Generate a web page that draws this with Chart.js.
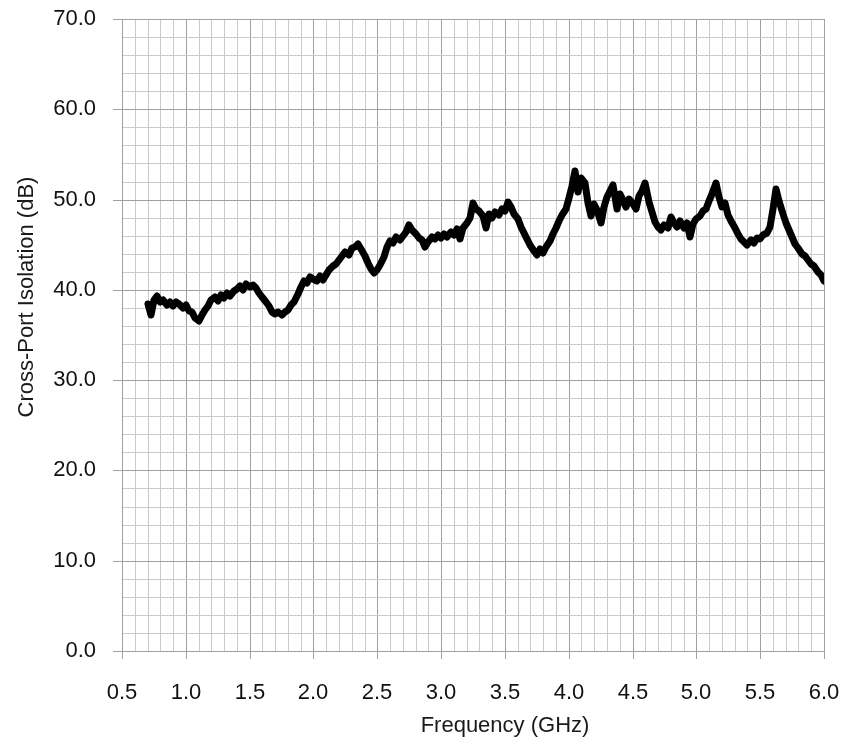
<!DOCTYPE html>
<html>
<head>
<meta charset="utf-8">
<script src="https://cdn.jsdelivr.net/npm/chart.js@4.4.1/dist/chart.umd.min.js"></script>
<style>
  html, body { margin: 0; padding: 0; background: #fff; }
  #chart { display: block; }
</style>
</head>
<body>
<canvas id="chart" width="846" height="744"></canvas>
<script>
const freqGHz = [
  0.700, 0.725, 0.750, 0.775, 0.800, 0.825, 0.850, 0.875,
  0.900, 0.925, 0.950, 0.975, 1.000, 1.025, 1.050, 1.075,
  1.100, 1.125, 1.150, 1.175, 1.200, 1.225, 1.250, 1.275,
  1.300, 1.325, 1.350, 1.375, 1.400, 1.425, 1.450, 1.475,
  1.500, 1.525, 1.550, 1.575, 1.600, 1.625, 1.650, 1.675,
  1.700, 1.725, 1.750, 1.775, 1.800, 1.825, 1.850, 1.875,
  1.900, 1.925, 1.950, 1.975, 2.000, 2.025, 2.050, 2.075,
  2.100, 2.125, 2.150, 2.175, 2.200, 2.225, 2.250, 2.275,
  2.300, 2.325, 2.350, 2.375, 2.400, 2.425, 2.450, 2.475,
  2.500, 2.525, 2.550, 2.575, 2.600, 2.625, 2.650, 2.675,
  2.700, 2.725, 2.750, 2.775, 2.800, 2.825, 2.850, 2.875,
  2.900, 2.925, 2.950, 2.975, 3.000, 3.025, 3.050, 3.075,
  3.100, 3.125, 3.150, 3.175, 3.200, 3.225, 3.250, 3.275,
  3.300, 3.325, 3.350, 3.375, 3.400, 3.425, 3.450, 3.475,
  3.500, 3.525, 3.550, 3.575, 3.600, 3.625, 3.650, 3.675,
  3.700, 3.725, 3.750, 3.775, 3.800, 3.825, 3.850, 3.875,
  3.900, 3.925, 3.950, 3.975, 4.000, 4.025, 4.050, 4.075,
  4.100, 4.125, 4.150, 4.175, 4.200, 4.225, 4.250, 4.275,
  4.300, 4.325, 4.350, 4.375, 4.400, 4.425, 4.450, 4.475,
  4.500, 4.525, 4.550, 4.575, 4.600, 4.625, 4.650, 4.675,
  4.700, 4.725, 4.750, 4.775, 4.800, 4.825, 4.850, 4.875,
  4.900, 4.925, 4.950, 4.975, 5.000, 5.025, 5.050, 5.075,
  5.100, 5.125, 5.150, 5.175, 5.200, 5.225, 5.250, 5.275,
  5.300, 5.325, 5.350, 5.375, 5.400, 5.425, 5.450, 5.475,
  5.500, 5.525, 5.550, 5.575, 5.600, 5.625, 5.650, 5.675,
  5.700, 5.725, 5.750, 5.775, 5.800, 5.825, 5.850, 5.875,
  5.900, 5.925, 5.950, 5.975, 6.000
];

const isolationDb = [
  38.4, 37.2, 38.9, 39.3, 38.6, 38.9, 38.3, 38.7,
  38.2, 38.6, 38.4, 38.0, 38.3, 37.7, 37.5, 36.9,
  36.6, 37.2, 37.8, 38.2, 38.9, 39.2, 38.8, 39.4,
  39.1, 39.6, 39.3, 39.9, 40.1, 40.4, 40.0, 40.6,
  40.3, 40.5, 40.2, 39.6, 39.2, 38.7, 38.2, 37.6,
  37.3, 37.6, 37.2, 37.5, 37.8, 38.3, 38.7, 39.5,
  40.3, 41.0, 40.8, 41.4, 41.2, 41.0, 41.5, 41.1,
  41.6, 42.2, 42.6, 42.9, 43.3, 43.8, 44.2, 43.9,
  44.6, 44.8, 45.1, 44.5, 43.8, 43.0, 42.3, 41.9,
  42.2, 42.8, 43.6, 44.8, 45.4, 45.2, 45.8, 45.5,
  46.0, 46.4, 47.2, 46.6, 46.2, 45.7, 45.5, 44.8,
  45.3, 45.9, 45.6, 46.1, 45.7, 46.2, 45.8, 46.4,
  46.1, 46.7, 45.6, 46.9, 47.4, 48.0, 49.6, 49.0,
  48.7, 48.2, 46.8, 48.4, 48.0, 48.6, 48.3, 49.0,
  48.7, 49.7, 49.2, 48.4, 47.8, 47.0, 46.3, 45.6,
  45.0, 44.3, 43.9, 44.5, 44.1, 44.8, 45.4, 46.2,
  46.8, 47.6, 48.3, 49.0, 50.2, 51.5, 53.2, 50.8,
  52.4, 51.8, 49.6, 48.2, 49.5, 48.8, 47.4, 49.2,
  50.3, 51.0, 51.6, 49.0, 50.6, 50.0, 49.2, 50.1,
  49.5, 49.0, 50.4, 50.9, 51.8, 49.7, 48.6, 47.5,
  47.0, 46.6, 47.2, 46.8, 48.1, 47.4, 47.0, 47.6,
  46.9, 47.4, 45.8, 47.3, 47.8, 48.2, 48.7, 49.0,
  49.8, 50.6, 51.8, 50.3, 49.2, 49.6, 48.3, 47.6,
  46.8, 46.2, 45.6, 45.3, 45.0, 45.5, 45.2, 45.7,
  45.6, 46.1, 46.3, 47.0, 49.0, 51.2, 49.8, 48.4,
  47.4, 46.6, 45.9, 45.1, 44.6, 44.0, 43.8, 43.3,
  42.9, 42.6, 42.0, 41.6, 41.0
];

const xTitle = 'Frequency (GHz)';
const yTitle = 'Cross-Port Isolation (dB)';

const FONT = '"Liberation Sans", Arial, sans-serif';
const MAJOR_GRID = '#a0a0a0';
const MINOR_GRID = '#cbcbcb';

// major = multiple of the given step
function isMultiple(v, step) {
  const r = v / step;
  return Math.abs(r - Math.round(r)) < 1e-6;
}

// drop the automatic label overhang so layout.padding alone sets the plot box
function fixScale(s, size) {
  if (s.isHorizontal()) s.height = size; else s.width = size;
  s.paddingTop = 0;
  s.paddingBottom = 0;
  s.paddingLeft = 0;
  s.paddingRight = 0;
}

// axis titles sit off-centre in the original, so draw them by hand
const axisTitles = {
  id: 'axisTitles',
  afterDraw(chart) {
    const c = chart.ctx;
    c.save();
    c.fillStyle = '#1a1a1a';
    c.font = '22px ' + FONT;
    c.textAlign = 'center';
    c.textBaseline = 'alphabetic';
    c.fillText(xTitle, 505, 732);
    c.translate(33, 297);
    c.rotate(-Math.PI / 2);
    c.fillText(yTitle, 0, 0);
    c.restore();
  }
};

const points = freqGHz.map((f, i) => ({ x: f, y: isolationDb[i] }));

new Chart(document.getElementById('chart'), {
  type: 'scatter',
  data: {
    datasets: [{
      data: points,
      showLine: true,
      borderColor: '#000',
      borderWidth: 7,
      borderJoinStyle: 'round',
      borderCapStyle: 'round',
      pointRadius: 0,
      tension: 0
    }]
  },
  options: {
    responsive: false,
    animation: false,
    layout: { padding: { top: 19, right: 22, left: 0, bottom: 0 } },
    plugins: {
      legend: { display: false },
      tooltip: { enabled: false }
    },
    scales: {
      x: {
        type: 'linear',
        min: 0.5,
        max: 6.0,
        alignToPixels: true,
        afterFit: s => fixScale(s, 93),
        grid: {
          color: ctx => isMultiple(ctx.tick.value, 0.5) ? MAJOR_GRID : MINOR_GRID,
          tickColor: ctx => isMultiple(ctx.tick.value, 0.5) ? MAJOR_GRID : 'rgba(0,0,0,0)',
          tickLength: 8,
          lineWidth: 1
        },
        border: { color: MAJOR_GRID },
        ticks: {
          stepSize: 0.1,
          autoSkip: false,
          maxRotation: 0,
          minRotation: 0,
          padding: 21,
          color: '#111',
          font: { family: FONT, size: 22 },
          callback: v => isMultiple(v, 0.5) ? v.toFixed(1) : ''
        }
      },
      y: {
        type: 'linear',
        min: 0,
        max: 70,
        alignToPixels: true,
        afterFit: s => fixScale(s, 122),
        grid: {
          color: ctx => isMultiple(ctx.tick.value, 10) ? MAJOR_GRID : MINOR_GRID,
          tickColor: ctx => isMultiple(ctx.tick.value, 10) ? MAJOR_GRID : 'rgba(0,0,0,0)',
          tickLength: 9,
          lineWidth: 1
        },
        border: { color: MAJOR_GRID },
        ticks: {
          stepSize: 2,
          autoSkip: false,
          padding: 17,
          color: '#111',
          font: { family: FONT, size: 22 },
          callback: v => isMultiple(v, 10) ? v.toFixed(1) : ''
        }
      }
    }
  },
  plugins: [axisTitles]
});
</script>
</body>
</html>
